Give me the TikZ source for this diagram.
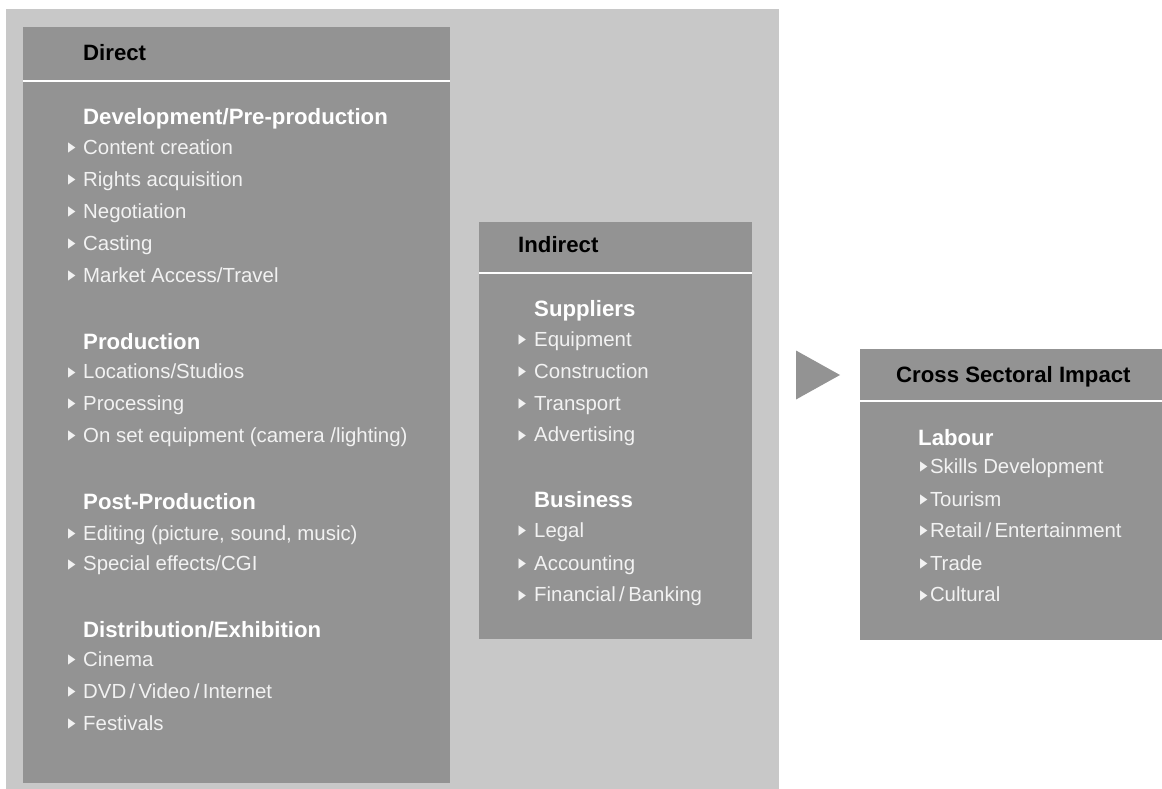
\documentclass[tikz,border=0pt]{standalone}
\usepackage{fontspec}
\setmainfont{Liberation Sans}
\newfontfamily\symbfont{DejaVu Sans}
\usepackage{tikz}
\usetikzlibrary{positioning,shapes.geometric}
\definecolor{panelgray}{HTML}{C8C8C8}
\definecolor{boxgray}{HTML}{939393}
\definecolor{itemwhite}{HTML}{F2F2F2}
\newcommand{\itemfont}{\fontsize{20.4}{24}\selectfont}
\newcommand{\headfont}{\bfseries\fontsize{22.2}{26}\selectfont}
\newcommand{\bul}[1]{\makebox[#1pt][l]{\raisebox{2.4pt}{\scalebox{0.72}[1]{\symbfont\fontsize{13.5}{14}\selectfont ▶}}}}
\tikzset{
box/.style={fill=boxgray, draw=none, anchor=north west, inner sep=0, outer sep=0},
rule/.style={draw=white, line width=2.6pt},
title/.style={anchor=base west, inner sep=0, font=\headfont, text=black},
subhead/.style={anchor=base west, inner sep=0, font=\headfont, text=white},
item/.style={anchor=base west, inner sep=0, font=\itemfont, text=itemwhite},
}

\begin{document}
\begin{tikzpicture}[x=1pt,y=-1pt]
            \useasboundingbox (0,0) rectangle (1162,789);
            \fill[panelgray] (6,9) rectangle (779,789);

            \node[box, minimum width=427pt, minimum height=54pt] (dhead) at (23,27) {};
            \node[box, minimum width=427pt, minimum height=702pt] (dbody) at (23,81) {};
            \draw[rule] (dhead.south west) -- (dhead.south east);

            \node[box, minimum width=273pt, minimum height=51pt] (ihead) at (479,222) {};
            \node[box, minimum width=273pt, minimum height=366pt] (ibody) at (479,273) {};
            \draw[rule] (ihead.south west) -- (ihead.south east);

            \node[box, minimum width=302pt, minimum height=52pt] (chead) at (860,349) {};
            \node[box, minimum width=302pt, minimum height=239pt] (cbody) at (860,401) {};
            \draw[rule] (chead.south west) -- (chead.south east);

            \node[isosceles triangle, isosceles triangle stretches, fill=boxgray,
                  minimum height=44pt, minimum width=49pt, inner sep=0, outer sep=0,
                  anchor=apex] (arrow) at (840,375) {};

            \node[title] (tdirect) at (83,61) {Direct};
            \node[subhead] (d1) at (83,125) {Development/Pre-production};
            \node[item] (d11) at (68,154) {\bul{15}Content creation};
            \node[item] (d12) at (68,186) {\bul{15}Rights acquisition};
            \node[item] (d13) at (68,218) {\bul{15}Negotiation};
            \node[item] (d14) at (68,250) {\bul{15}Casting};
            \node[item] (d15) at (68,282) {\bul{15}Market Access/Travel};

            \node[subhead] (d2) at (83,349) {Production};
            \node[item] (d21) at (68,378.5) {\bul{15}Locations/Studios};
            \node[item] (d22) at (68,410) {\bul{15}Processing};
            \node[item] (d23) at (68,442) {\bul{15}On set equipment (camera /lighting)};

            \node[subhead] (d3) at (83,509) {Post-Production};
            \node[item] (d31) at (68,540) {\bul{15}Editing (picture, sound, music)};
            \node[item] (d32) at (68,570.5) {\bul{15}Special effects/CGI};

            \node[subhead] (d4) at (83,637) {Distribution/Exhibition};
            \node[item] (d41) at (68,666) {\bul{15}Cinema};
            \node[item] (d42) at (68,698) {\bul{15}DVD\,/\,Video\,/\,Internet};
            \node[item] (d43) at (68,730) {\bul{15}Festivals};

            \node[title] (tindirect) at (518,252.7) {Indirect};
            \node[subhead] (s1) at (534,316.7) {Suppliers};
            \node[item] (s11) at (518.5,346) {\bul{15.5}Equipment};
            \node[item] (s12) at (518.5,378.3) {\bul{15.5}Construction};
            \node[item] (s13) at (518.5,410) {\bul{15.5}Transport};
            \node[item] (s14) at (518.5,441.7) {\bul{15.5}Advertising};

            \node[subhead] (s2) at (534,507.7) {Business};
            \node[item] (s21) at (518.5,537.3) {\bul{15.5}Legal};
            \node[item] (s22) at (518.5,570) {\bul{15.5}Accounting};
            \node[item] (s23) at (518.5,601.7) {\bul{15.5}Financial\,/\,Banking};

            \node[title] (tcross) at (896,382.7) {Cross Sectoral Impact};
            \node[subhead] (l1) at (918,445) {Labour};
            \node[item] (l11) at (920,473.3) {\bul{9.8}Skills Development};
            \node[item] (l12) at (920,506) {\bul{9.8}Tourism};
            \node[item] (l13) at (920,537.3) {\bul{9.8}Retail\,/\,Entertainment};
            \node[item] (l14) at (920,570) {\bul{9.8}Trade};
            \node[item] (l15) at (920,601.7) {\bul{9.8}Cultural};
        \end{tikzpicture}
\end{document}
